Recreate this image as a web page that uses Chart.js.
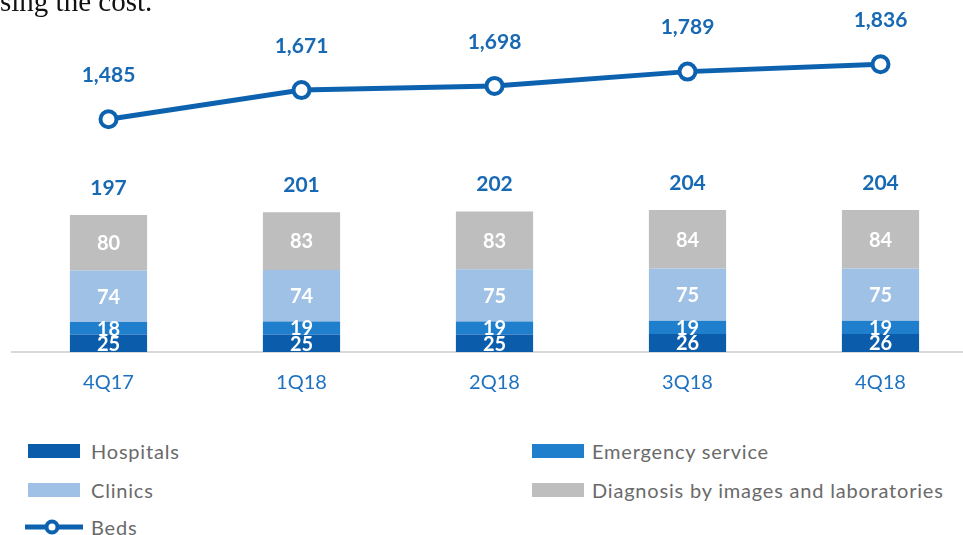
<!DOCTYPE html>
<html>
<head>
<meta charset="utf-8">
<script src="https://cdn.jsdelivr.net/npm/chart.js@4"></script>
<style>
  html, body { margin: 0; padding: 0; background: #fff; overflow: hidden; }
  body { width: 963px; height: 535px; position: relative; font-family: Lato, sans-serif; }
  #wrap { position: absolute; left: 0; top: 0; width: 977px; height: 400px; }
  #topText { position: absolute; left: 0; top: -15px; font-family: 'Liberation Serif', serif; font-size: 29px; color: #111; white-space: nowrap; }
  .leg { position: absolute; font-size: 20px; letter-spacing: 0.8px; color: #6a6a6a; line-height: 20px; }
  .sw { position: absolute; width: 52px; height: 14px; }
</style>
</head>
<body>
<div id="wrap"><canvas id="chart" width="977" height="400"></canvas></div>
<div id="topText">sing the cost.</div>

<div class="sw" style="left:28px;top:444px;background:#0b5dab"></div>
<div class="leg" style="left:91px;top:441px">Hospitals</div>
<div class="sw" style="left:532px;top:444px;background:#1f7fcc"></div>
<div class="leg" style="left:592px;top:441px">Emergency service</div>
<div class="sw" style="left:28px;top:483px;background:#9fc1e6"></div>
<div class="leg" style="left:91px;top:480px">Clinics</div>
<div class="sw" style="left:532px;top:483px;background:#bebebe"></div>
<div class="leg" style="left:592px;top:480px">Diagnosis by images and laboratories</div>
<svg style="position:absolute;left:24px;top:518px" width="60" height="18">
  <line x1="1" y1="9" x2="59" y2="9" stroke="#0d62af" stroke-width="5"/>
  <circle cx="28" cy="9" r="5.5" fill="#fff" stroke="#0d62af" stroke-width="4"/>
</svg>
<div class="leg" style="left:91px;top:517px">Beds</div>

<script>
const quarters = ['4Q17', '1Q18', '2Q18', '3Q18', '4Q18'];
const hospitals = [25, 25, 25, 26, 26];
const emergency = [18, 19, 19, 19, 19];
const clinics = [74, 74, 75, 75, 75];
const diagnosis = [80, 83, 83, 84, 84];
const totals = [197, 201, 202, 204, 204];
const beds = [1485, 1671, 1698, 1789, 1836];

const blueText = '#1769b4';

const labelPlugin = {
  id: 'labels',
  afterDatasetsDraw(chart) {
    const ctx = chart.ctx;
    ctx.save();
    ctx.textAlign = 'center';
    ctx.textBaseline = 'middle';
    // values inside the bar segments
    ctx.font = 'bold 20px Lato';
    ctx.fillStyle = '#fff';
    for (let d = 0; d < 4; d++) {
      const meta = chart.getDatasetMeta(d);
      meta.data.forEach((bar, i) => {
        const v = chart.data.datasets[d].data[i];
        ctx.fillText(v, bar.x, (bar.y + bar.base) / 2 + 1);
      });
    }
    // totals above the stacks
    ctx.font = 'bold 21px Lato';
    ctx.fillStyle = blueText;
    const top = chart.getDatasetMeta(3);
    top.data.forEach((bar, i) => {
      ctx.fillText(totals[i], bar.x, bar.y - 27);
    });
    // beds labels
    const line = chart.getDatasetMeta(4);
    line.data.forEach((pt, i) => {
      ctx.fillText(beds[i].toLocaleString('en-US'), pt.x, pt.y - 44);
    });
    ctx.restore();
  }
};

new Chart(document.getElementById('chart'), {
  data: {
    labels: quarters,
    datasets: [
      { type: 'bar', label: 'Hospitals', data: hospitals, backgroundColor: '#0b5dab', yAxisID: 'y', order: 2 },
      { type: 'bar', label: 'Emergency service', data: emergency, backgroundColor: '#1f7fcc', yAxisID: 'y', order: 2 },
      { type: 'bar', label: 'Clinics', data: clinics, backgroundColor: '#9fc1e6', yAxisID: 'y', order: 2 },
      { type: 'bar', label: 'Diagnosis by images and laboratories', data: diagnosis, backgroundColor: '#bebebe', yAxisID: 'y', order: 2 },
      {
        type: 'line', label: 'Beds', data: beds, yAxisID: 'y2', order: 1,
        borderColor: '#0d62af', borderWidth: 5, tension: 0,
        pointRadius: 8, pointBorderWidth: 4, pointBackgroundColor: '#fff', pointBorderColor: '#0d62af'
      }
    ]
  },
  options: {
    responsive: false,
    animation: false,
    layout: { autoPadding: false, padding: { left: 12, right: 0, top: 0, bottom: 0 } },
    datasets: { bar: { barPercentage: 0.4, categoryPercentage: 1.0 } },
    plugins: { legend: { display: false }, tooltip: { enabled: false } },
    scales: {
      x: {
        stacked: true,
        grid: { display: false, drawTicks: false },
        border: { display: true, color: '#d9d9d9', width: 2 },
        ticks: { color: '#1f72c0', font: { family: 'Lato', size: 20 }, padding: 19 },
        afterFit(scale) { scale.height = 48; }
      },
      y: { stacked: true, display: false, min: 0, max: 506 },
      y2: { display: false, min: 0, max: 2246 }
    }
  },
  plugins: [labelPlugin]
});
</script>
</body>
</html>
